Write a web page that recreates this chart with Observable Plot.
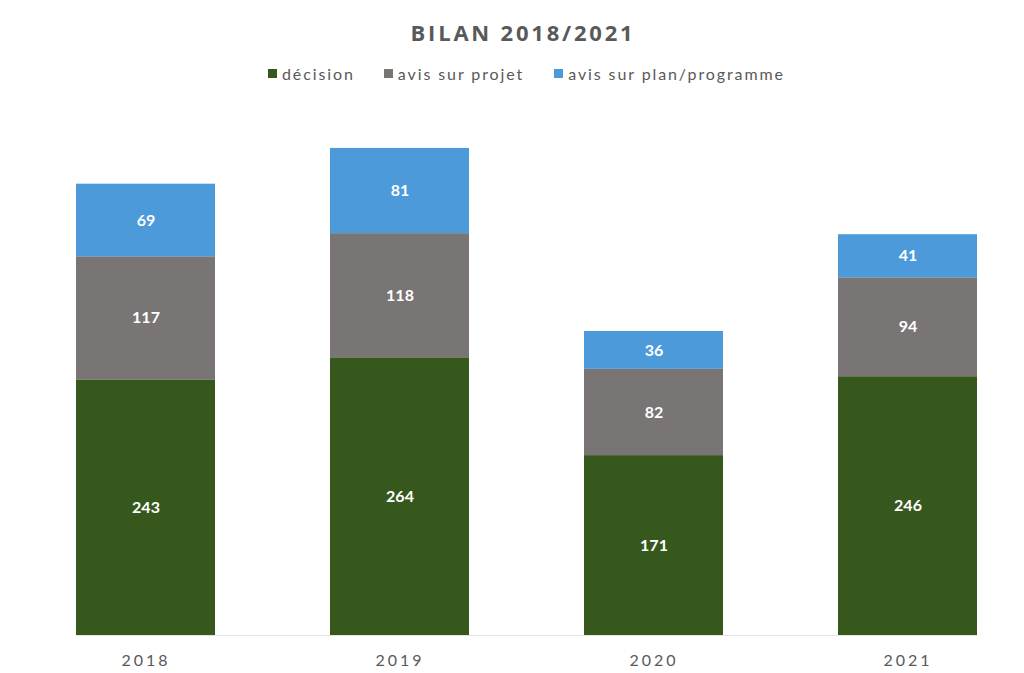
<!DOCTYPE html>
<html>
<head>
<meta charset="utf-8">
<script src="https://cdn.jsdelivr.net/npm/d3@7"></script>
<script src="https://cdn.jsdelivr.net/npm/@observablehq/plot@0.6"></script>
<style>
  html, body { margin: 0; padding: 0; background: #ffffff; }
  body { width: 1024px; height: 673px; overflow: hidden; font-family: Lato, "Open Sans", sans-serif; }
  #title { position: absolute; top: 17px; left: 0; width: 1046px; text-align: center; font-size: 22px; font-weight: bold; color: #595959; letter-spacing: 2.8px; font-family: "Open Sans", Lato, sans-serif; }
  #legend { position: absolute; top: 64px; left: 268px; display: flex; gap: 0; font-size: 16px; color: #595959; letter-spacing: 1.9px; }
  .item { display: flex; align-items: center; }
  .sw { width: 9px; height: 9px; margin-right: 5px; display: inline-block; }
  #chart { position: absolute; top: 95px; left: 0; }
</style>
</head>
<body>
<div id="title">BILAN 2018/2021</div>
<div id="legend"></div>
<div id="chart"></div>
<script>
const years = ["2018", "2019", "2020", "2021"];
const categories = ["décision", "avis sur projet", "avis sur plan/programme"];
const decision = [243, 264, 171, 246];
const projet = [117, 118, 82, 94];
const plan = [69, 81, 36, 41];
const colors = ["#37581d", "#797575", "#4c9ad9"];

const series = [decision, projet, plan];
const table = [];
years.forEach((y, i) => {
  categories.forEach((c, j) => {
    table.push({year: y, category: c, value: series[j][i]});
  });
});

// legend
const legend = document.getElementById("legend");
const gaps = [29, 30, 0];
categories.forEach((c, j) => {
  const d = document.createElement("div");
  d.className = "item";
  d.style.marginRight = gaps[j] + "px";
  d.innerHTML = `<span class="sw" style="background:${colors[j]}"></span><span>${c}</span>`;
  legend.appendChild(d);
});

const chart = Plot.plot({
  width: 1024,
  height: 578,
  marginTop: 14,
  marginBottom: 38,
  marginLeft: 76,
  marginRight: 47,
  x: {domain: years, padding: 0.453, paddingOuter: 0, label: null},
  y: {domain: [0, 500], axis: null},
  color: {domain: categories, range: colors},
  style: {fontFamily: "Lato, 'Open Sans', sans-serif", background: "#ffffff"},
  marks: [
    Plot.ruleY([0], {stroke: "#e3e3e3"}),
    Plot.barY(table, {x: "year", y: "value", fill: "category", order: null}),
    Plot.text(table, Plot.stackY({x: "year", y: "value", z: "category", text: d => String(d.value), fill: "white", fontSize: 16, fontWeight: "bold", order: null})),
    Plot.axisX({tickSize: 0, tickPadding: 19, fontSize: 16, fill: "#595959", label: null})
  ]
});
chart.querySelectorAll('g[aria-label="x-axis tick label"] text').forEach(t => t.setAttribute("letter-spacing", "3"));
document.getElementById("chart").appendChild(chart);
</script>
</body>
</html>
